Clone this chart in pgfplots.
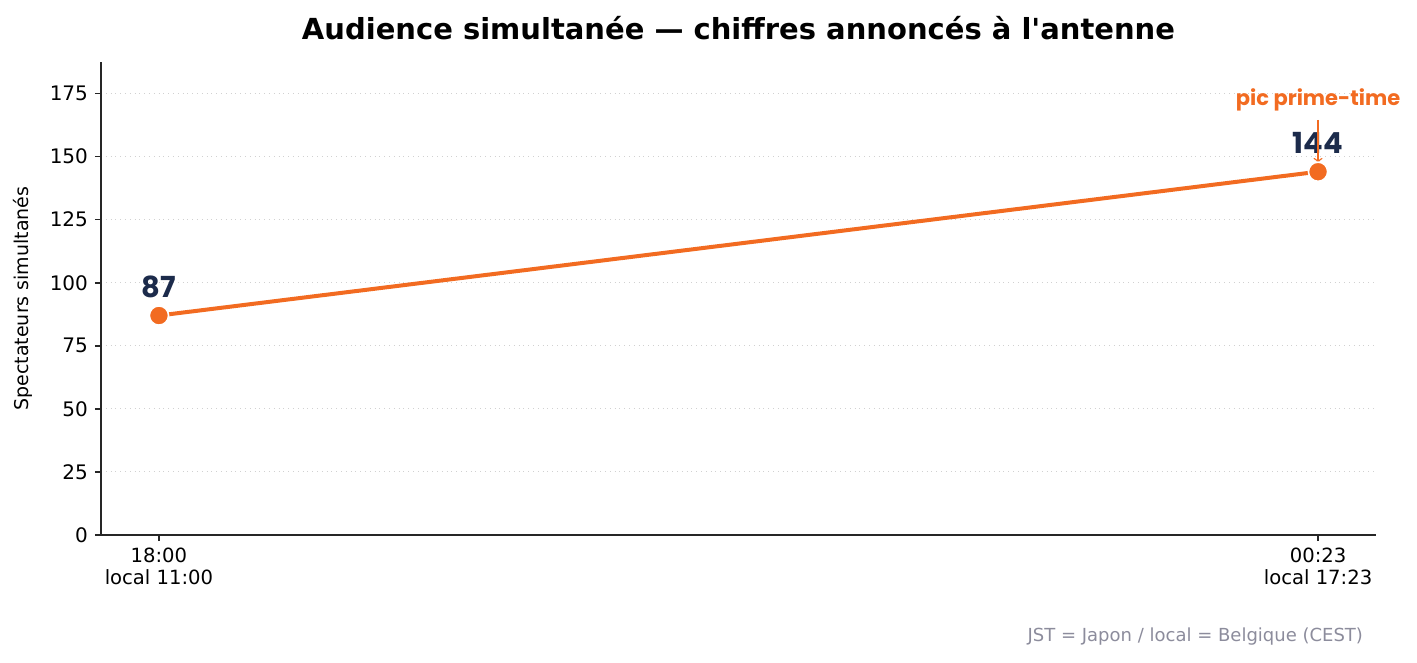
\documentclass[border=0pt]{standalone}
\usepackage{fontspec}
\setmainfont{DejaVu Sans}
\newfontfamily\poppins{Poppins}
\usepackage{pgfplots}
\pgfplotsset{compat=1.18}
\definecolor{accent}{HTML}{F26B21}
\definecolor{navy}{HTML}{1C2B4B}
\definecolor{note}{HTML}{8C8C9C}
\begin{document}
\begin{tikzpicture}
\begin{axis}[
    scale only axis,
    width=637.5pt, height=236.5pt,
    xmin=-0.05, xmax=1.05,
    ymin=0, ymax=187.5,
    axis lines*=left,
    axis line style={line width=0.8pt, black!85},
    tick align=outside,
    major tick length=3pt,
    tick style={line width=0.8pt, black!85},
    xtick={0,1},
    xticklabels={18:00\\local 11:00, 00:23\\local 17:23},
    xticklabel style={align=center, font=\fontsize{9.8}{10.8}\selectfont},
    ytick={0,25,...,175},
    yticklabel style={font=\fontsize{10}{11}\selectfont},
    /pgf/number format/assume math mode=true,
    ymajorgrids,
    grid style={dotted, line width=0.5pt, black!18},
    ylabel={Spectateurs simultanés},
    ylabel style={font=\fontsize{9.5}{11}\selectfont, yshift=2pt},
    clip=false,
]
\addplot[accent, line width=2pt, mark=*,
    mark options={scale=2.4, fill=accent, draw=white, line width=0.8pt}]
  coordinates {(0,87) (1,144)};
\node[navy, font=\poppins\bfseries\fontsize{14.5}{15}\selectfont, anchor=south]
  at (axis cs:0,87) [yshift=5.5pt] {87};
\node[navy, font=\poppins\bfseries\fontsize{14.5}{15}\selectfont, anchor=south]
  at (axis cs:1,144) [yshift=5.5pt] {144};
\node[accent, font=\poppins\bfseries\fontsize{10.5}{11}\selectfont] (ann)
  at (axis cs:1,144) [yshift=36pt] {pic prime-time};
\draw[accent, line width=0.7pt, ->] ([yshift=-1pt]ann.south) -- ([yshift=4.5pt]axis cs:1,144);
\end{axis}
\node[font=\bfseries\fontsize{14.5}{17}\selectfont] at ([yshift=17pt]current axis.north) {Audience simultanée — chiffres annoncés à l\textquotesingle antenne};
\node[note, anchor=east, font=\fontsize{9}{10}\selectfont] at ([xshift=634.5pt,yshift=-51pt]current axis.south west) {JST = Japon / local = Belgique (CEST)};
\pgfresetboundingbox
\path ([xshift=-50.5pt,yshift=-64pt]current axis.south west) rectangle ([xshift=658pt,yshift=267.5pt]current axis.south west);
\end{tikzpicture}
\end{document}
